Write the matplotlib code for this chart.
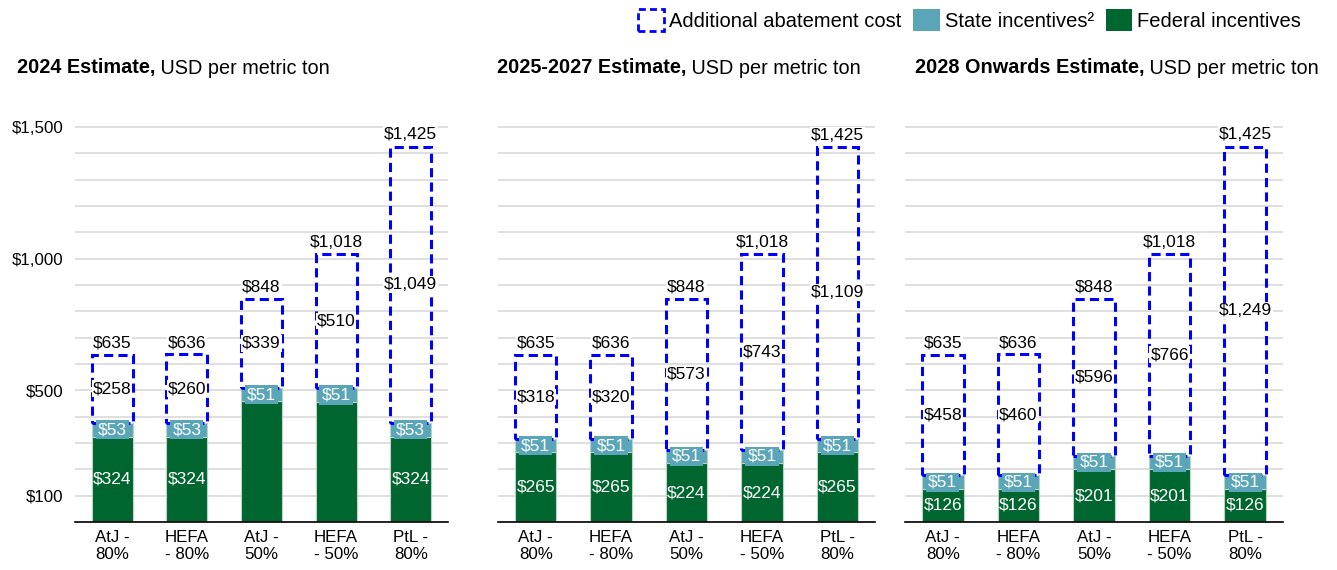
import matplotlib
matplotlib.use("Agg")
import matplotlib.pyplot as plt
from matplotlib.patches import Patch
from matplotlib.ticker import MultipleLocator, FixedLocator

plt.rcParams["font.family"] = ["Liberation Sans", "DejaVu Sans"]

# data (USD per metric ton)
categories = ["AtJ -\n80%", "HEFA\n- 80%", "AtJ -\n50%", "HEFA\n- 50%", "PtL -\n80%"]
titles = ["2024 Estimate,", "2025-2027 Estimate,", "2028 Onwards Estimate,"]

federal_2024 = [324, 324, 458, 457, 324]
state_2024 = [53, 53, 51, 51, 53]
additional_2024 = [258, 260, 339, 510, 1049]

federal_2025 = [265, 265, 224, 224, 265]
state_2025 = [51, 51, 51, 51, 51]
additional_2025 = [318, 320, 573, 743, 1109]

federal_2028 = [126, 126, 201, 201, 126]
state_2028 = [51, 51, 51, 51, 51]
additional_2028 = [458, 460, 596, 766, 1249]

totals = [635, 636, 848, 1018, 1425]

# federal labels not shown in the original (2024, 50% bars)
hidden_federal = [[2, 3], [], []]

GREEN = "#00662f"
TEAL = "#5aa6b8"
BLUE = "#0000ff"
GRID = "#d9d9d9"

panels = [
    (federal_2024, state_2024, additional_2024),
    (federal_2025, state_2025, additional_2025),
    (federal_2028, state_2028, additional_2028),
]

W, H = 1337, 570
fig = plt.figure(figsize=(W / 100, H / 100), dpi=100)

lefts = [75, 498, 905]
widths = [373, 377, 378]
bottom_px, top_px = 522, 116.5
title_x = [17, 497, 915]


def money(v):
    return "${:,}".format(v)


for i, (fed, state, add) in enumerate(panels):
    ax = fig.add_axes([lefts[i] / W, (H - bottom_px) / H, widths[i] / W, (bottom_px - top_px) / H])
    x = list(range(len(categories)))
    base = [f + s for f, s in zip(fed, state)]

    ax.bar(x, fed, width=0.55, color=GREEN, edgecolor="#b9d3c4", linewidth=0.8, zorder=2)
    ax.bar(x, state, bottom=fed, width=0.55, color=TEAL, edgecolor="#b9d3c4", linewidth=0.8, zorder=2)
    ax.bar(x, add, bottom=base, width=0.55, fill=False, edgecolor=BLUE,
           linewidth=2.2, linestyle=(0, (3, 1.7)), zorder=3)

    for j in x:
        if j not in hidden_federal[i]:
            ax.text(j, fed[j] / 2, money(fed[j]), ha="center", va="center",
                    color="white", fontsize=12.5, zorder=5)
        ax.text(j, fed[j] + state[j] / 2, money(state[j]), ha="center", va="center",
                color="white", fontsize=12.5, zorder=5,
                bbox=dict(boxstyle="square,pad=0.12", facecolor=TEAL, edgecolor="none"))
        ax.text(j, base[j] + add[j] / 2, money(add[j]), ha="center", va="center",
                color="black", fontsize=12.5, zorder=5,
                bbox=dict(boxstyle="square,pad=0.05", facecolor="white", edgecolor="none"))
        ax.annotate(money(totals[j]), xy=(j, base[j] + add[j]), xytext=(0, 3),
                    textcoords="offset points", ha="center", va="bottom",
                    fontsize=12.5, zorder=5,
                    bbox=dict(boxstyle="square,pad=0.05", facecolor="white", edgecolor="none"))

    ax.set_xlim(-0.5, 4.5)
    ax.set_ylim(0, 1540)
    ax.set_xticks(x)
    ax.set_xticklabels(categories, fontsize=12.2, linespacing=1.15)
    ax.yaxis.set_major_locator(FixedLocator([100, 500, 1000, 1500]))
    ax.yaxis.set_minor_locator(MultipleLocator(100))
    ax.grid(axis="y", which="both", color=GRID, linewidth=1.2, zorder=0)
    ax.set_axisbelow(True)
    ax.tick_params(axis="both", which="both", length=0)
    ax.tick_params(axis="x", pad=6)
    ax.tick_params(axis="y", pad=8.6)
    if i == 0:
        ax.set_yticklabels([money(v) for v in [100, 500, 1000, 1500]], fontsize=12.2)
    else:
        ax.set_yticklabels([])
    for side in ["left", "right", "top"]:
        ax.spines[side].set_visible(False)
    ax.spines["bottom"].set_color("black")
    ax.spines["bottom"].set_linewidth(1.2)

    t = fig.text(title_x[i] / W, 1 - 68 / H, titles[i], fontsize=14.3, weight="bold",
                 ha="left", va="center")
    plt.annotate(" USD per metric ton", xy=(1, 0.5), xycoords=t, va="center",
                 ha="left", fontsize=14.3, annotation_clip=False)

handles = [
    Patch(facecolor="none", edgecolor=BLUE, linewidth=2, linestyle=(0, (2.5, 1.5))),
    Patch(facecolor=TEAL, edgecolor="none"),
    Patch(facecolor=GREEN, edgecolor="none"),
]
labels = ["Additional abatement cost", "State incentives\u00b2", "Federal incentives"]
fig.legend(handles, labels, loc="center right", bbox_to_anchor=(1301 / W, 1 - 20 / H),
           ncol=3, frameon=False, fontsize=14.5, handlelength=1.3, handleheight=1.3,
           handletextpad=0.25, columnspacing=0.6, borderpad=0, borderaxespad=0)

fig.savefig("out.png", dpi=100)
